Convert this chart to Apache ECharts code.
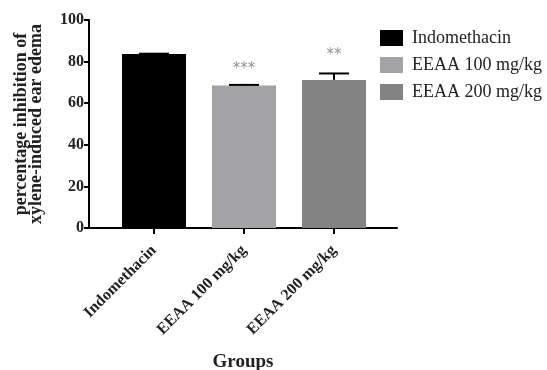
<!DOCTYPE html>
<html>
<head>
<meta charset="utf-8">
<script src="https://cdn.jsdelivr.net/npm/echarts@6/dist/echarts.min.js"></script>
<style>html,body{margin:0;padding:0;background:#fff}#c{width:547px;height:370px}</style>
</head>
<body>
<div id="c"></div>
<script>
var categories = ["Indomethacin", "EEAA 100 mg/kg", "EEAA 200 mg/kg"];
var means = [83.6, 68.5, 71.2];
var errors = [0.2, 0.3, 3.1];
var stars = ["", "***", "**"];
var starY = [null, 76.5, 83];
var colors = ["#000000", "#a3a3a6", "#838383"];
var yTicks = [0, 20, 40, 60, 80, 100];

var FONT = "Liberation Serif";
var chart = echarts.init(document.getElementById('c'));

var series = categories.map(function (name, i) {
  return {
    name: name,
    type: 'bar',
    barWidth: 64,
    barGap: '-100%',
    itemStyle: { color: colors[i] },
    data: [[i, means[i]]]
  };
});

series.push({
  type: 'custom',
  name: 'err',
  silent: true,
  data: categories.map(function (c, i) { return [i, means[i], means[i] + errors[i]]; }),
  renderItem: function (params, api) {
    var x = api.value(0);
    var p0 = api.coord([x, api.value(1)]);
    var p1 = api.coord([x, api.value(2)]);
    var half = 15;
    return {
      type: 'group',
      children: [
        { type: 'line', shape: { x1: p0[0], y1: p0[1], x2: p1[0], y2: p1[1] }, style: { stroke: '#000', lineWidth: 2 } },
        { type: 'line', shape: { x1: p1[0] - half, y1: p1[1], x2: p1[0] + half, y2: p1[1] }, style: { stroke: '#000', lineWidth: 2 } }
      ]
    };
  },
  z: 5
});

series.push({
  type: 'scatter',
  name: 'stars',
  silent: true,
  symbolSize: 0,
  data: categories.map(function (c, i) { return starY[i] === null ? null : { value: [i, starY[i]], star: stars[i] }; }).filter(function (d) { return d; }),
  label: {
    show: true,
    position: 'inside',
    formatter: function (p) { return p.data.star; },
    color: '#777',
    fontSize: 15,
    fontFamily: "DejaVu Sans",
    letterSpacing: 1
  }
});

chart.setOption({
  animation: false,
  backgroundColor: '#fff',
  grid: { left: 89, right: 150, top: 20, bottom: 142, containLabel: false, outerBoundsMode: 'none' },
  legend: {
    data: categories,
    orient: 'vertical',
    left: 380,
    top: 29,
    padding: 0,
    icon: 'rect',
    itemWidth: 23,
    itemHeight: 16,
    itemGap: 9,
    textStyle: { fontFamily: FONT, fontSize: 18, color: '#222', lineHeight: 16, padding: [0, 0, 0, 4] }
  },
  xAxis: {
    type: 'value',
    min: -0.722,
    max: 2.7,
    name: 'Groups',
    nameLocation: 'middle',
    nameGap: 125,
    nameTextStyle: { fontFamily: FONT, fontWeight: 'bold', fontSize: 19, color: '#222' },
    axisLine: { show: true, onZero: false, lineStyle: { color: '#000', width: 2 } },
    axisTick: { show: true, customValues: [0, 1, 2], length: 6, lineStyle: { color: '#000', width: 2 } },
    splitLine: { show: false },
    axisLabel: {
      customValues: [0, 1, 2],
      rotate: 45,
      margin: 20,
      formatter: function (v) { return categories[Math.round(v)]; },
      fontFamily: FONT, fontWeight: 'bold', fontSize: 16, color: '#222'
    }
  },
  yAxis: {
    type: 'value',
    min: 0,
    max: 100,
    interval: 20,
    name: 'percentage inhibition of\nxylene-induced ear edema',
    nameLocation: 'middle',
    nameGap: 45,
    nameTextStyle: { fontFamily: FONT, fontWeight: 'bold', fontSize: 18, color: '#222', lineHeight: 15 },
    axisLine: { show: true, onZero: false, lineStyle: { color: '#000', width: 2 } },
    axisTick: { show: true, length: 5, lineStyle: { color: '#000', width: 2 } },
    splitLine: { show: false },
    axisLabel: {
      margin: 5,
      fontFamily: FONT, fontWeight: 'bold', fontSize: 16, color: '#222',
      customValues: yTicks
    }
  },
  series: series
});
</script>
</body>
</html>
